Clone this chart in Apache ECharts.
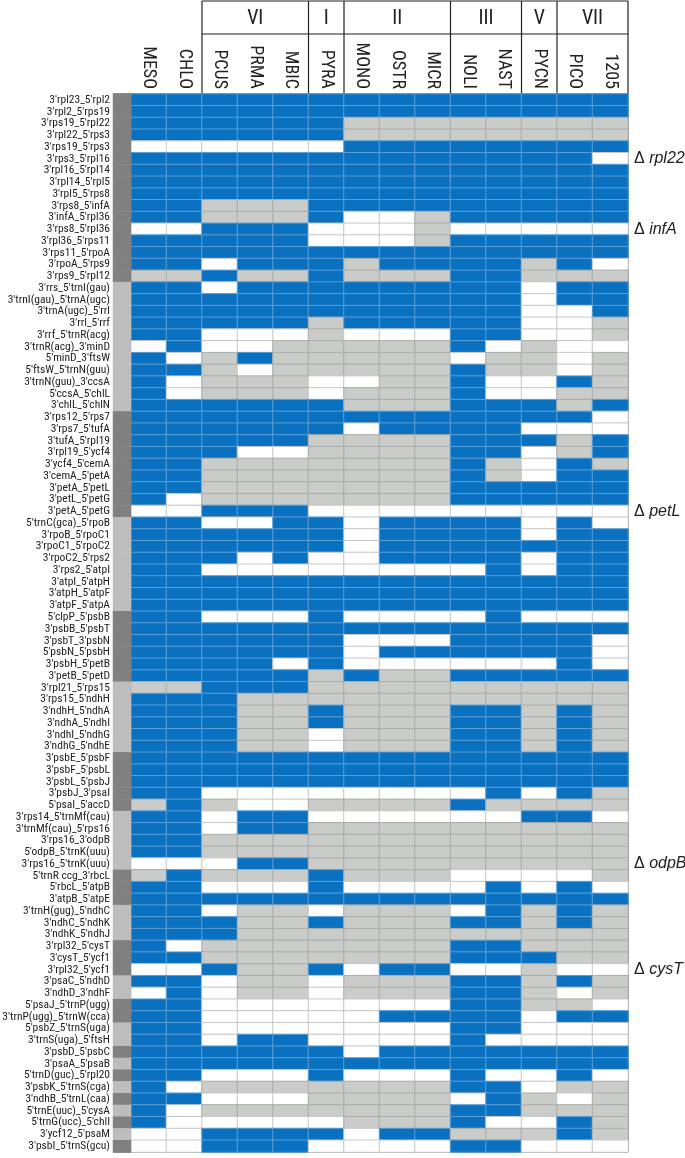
<!DOCTYPE html>
<html>
<head>
<meta charset="utf-8">
<script src="https://cdn.jsdelivr.net/npm/echarts@6/dist/echarts.min.js"></script>
<style>
html,body{margin:0;padding:0;background:#fff;}
#chart{width:685px;height:1158px;}
</style>
</head>
<body>
<div id="chart"></div>
<script>
// ---------- data ----------
const columns = ['MESO','CHLO','PCUS','PRMA','MBIC','PYRA','MONO','OSTR','MICR','NOLI','NAST','PYCN','PICO','1205'];

const groups = [
  {name:'VI',  from:2,  to:4},
  {name:'I',   from:5,  to:5},
  {name:'II',  from:6,  to:8},
  {name:'III', from:9,  to:10},
  {name:'V',   from:11, to:11},
  {name:'VII', from:12, to:13}
];

const rowLabels = [
"3'rpl23_5'rpl2","3'rpl2_5'rps19","3'rps19_5'rpl22","3'rpl22_5'rps3","3'rps19_5'rps3",
"3'rps3_5'rpl16","3'rpl16_5'rpl14","3'rpl14_5'rpl5","3'rpl5_5'rps8","3'rps8_5'infA",
"3'infA_5'rpl36","3'rps8_5'rpl36","3'rpl36_5'rps11","3'rps11_5'rpoA","3'rpoA_5'rps9",
"3'rps9_5'rpl12","3'rrs_5'trnI(gau)","3'trnI(gau)_5'trnA(ugc)","3'trnA(ugc)_5'rrl","3'rrl_5'rrf",
"3'rrf_5'trnR(acg)","3'trnR(acg)_3'minD","5'minD_3'ftsW","5'ftsW_5'trnN(guu)","3'trnN(guu)_3'ccsA",
"5'ccsA_5'chlL","3'chlL_5'chlN","3'rps12_5'rps7","3'rps7_5'tufA","3'tufA_5'rpl19",
"3'rpl19_5'ycf4","3'ycf4_5'cemA","3'cemA_5'petA","3'petA_5'petL","3'petL_5'petG",
"3'petA_5'petG","5'trnC(gca)_5'rpoB","3'rpoB_5'rpoC1","3'rpoC1_5'rpoC2","3'rpoC2_5'rps2",
"3'rps2_5'atpI","3'atpI_5'atpH","3'atpH_5'atpF","3'atpF_5'atpA","5'clpP_5'psbB",
"3'psbB_5'psbT","3'psbT_3'psbN","5'psbN_5'psbH","3'psbH_5'petB","3'petB_5'petD",
"3'rpl21_5'rps15","3'rps15_5'ndhH","3'ndhH_5'ndhA","3'ndhA_5'ndhI","3'ndhI_5'ndhG",
"3'ndhG_5'ndhE","3'psbE_5'psbF","3'psbF_5'psbL","3'psbL_5'psbJ","3'psbJ_3'psaI",
"5'psaI_5'accD","3'rps14_5'trnMf(cau)","3'trnMf(cau)_5'rps16","3'rps16_3'odpB","5'odpB_5'trnK(uuu)",
"3'rps16_5'trnK(uuu)","5'trnR ccg_3'rbcL","5'rbcL_5'atpB","3'atpB_5'atpE","3'trnH(gug)_5'ndhC",
"3'ndhC_5'ndhK","3'ndhK_5'ndhJ","3'rpl32_5'cysT","3'cysT_5'ycf1","3'rpl32_5'ycf1",
"3'psaC_5'ndhD","3'ndhD_3'ndhF","5'psaJ_5'trnP(ugg)","3'trnP(ugg)_5'trnW(cca)","5'psbZ_5'trnS(uga)",
"3'trnS(uga)_5'ftsH","3'psbD_5'psbC","3'psaA_5'psaB","5'trnD(guc)_5'rpl20","3'psbK_5'trnS(cga)",
"3'ndhB_5'trnL(caa)","5'trnE(uuc)_5'cysA","5'trnG(ucc)_5'chlI","3'ycf12_5'psaM","3'psbI_5'trnS(gcu)"
];

// B = present (blue), G = grey, W = absent (white); one letter per column
const cellRows = [
"BBBBBBBBBBBBBB","BBBBBBBBBBBBBB","BBBBBBGGGGGGGG","BBBBBBGGGGGGGG","WWWWWWBBBBBBBB",
"BBBBBBBBBBBBBW","BBBBBBBBBBBBBB","BBBBBBBBBBBBBB","BBBBBBBBBBBBBB","BBGGGBBBBBBBBB",
"BBGGGBWWGBBBBB","WWBBBWWWGWWWWW","BBBBBWWWGBBBBB","BBBBBBBBBBBBBB","BBWBBBGBBBBGBW",
"GGBGGBGGGBBGGG","BBWBBBBBBBBWBB","BBBBBBBBBBBWBB","BBBBBBBBBBBWWB","BBBBBGBBBBBWWG",
"BBWWWGWWWBBWWG","WBWWGGGGGBWGWW","BWGBGGGGGWGGWG","BBGWGGGGGBGGWG","BWGGGWWGGBWWBG",
"BWGGGWGGGBWWGG","BBBBBBGGGBBBGB","BBBBBBBBBBBBBW","BBBBBBWBBBBWWW","BBBBBGGGGBBBGB",
"BBBWWGGGGBBWGB","BBGGGGGGGBGWBG","BBGGGGGGGBGWBB","BBGGGGGGGBBBBB","BWGGGGGGGBBBBB",
"WWBBBWWWWWWWWW","BBWWBBWBBBBWBW","BBBBBBWBBBBWBB","BBBBBBWBBBBBBB","BBBWBWWBBBBWBB",
"BBWWWWWWWWBWBB","BBBBBBBBBBBBBB","BBBBBBBBBBBBBB","BBBBBBBBBBBBBB","BBWWWBWWWWBWWW",
"BBBBBBBBBBBBBB","BBBBBBWWWBBBBW","BBBBBBWBBBBBBW","BBBBWBWWWWWWBW","BBBBBGBGGBBBBB",
"GGBBBGGGGGGGGG","BBBGGGGGGGGGGG","BBBGGBGGGBBGBG","BBBGGBGGGBBGBG","BBBGGWGGGBBGBG",
"BBBGGWGGGBBGBG","BBBBBBBBBBBBBB","BBBBBBBBBBBBBB","BBBBBBBBBBBBBB","BBWWWWWWWWBWBG",
"GBGWWGGGGBGGGG","BBWBBWWWWWWBBW","BBWBBGGGGGGGGG","BBGGGGGGGGGGGG","BBGGGGGGGGGGGG",
"WWWBBGGGGGGGGG","GBGGGBGGGWWWWG","BBWWWBWWWWBWBW","BBBBBBBBBBBBBB","BBWGGWGGGWBGBG",
"BBBGGBGGGBBGBG","BBBGGGGGGGGGGG","BWGGGGGGGBBGGG","BBGGGGGGGBBBGG","WWBGGBWBBWWGWW",
"BBWGGWGGGBBGBG","WBWGGWGGGBBGWG","BBWWWWWWWBBGGW","BBWWWWWBBBBWBB","BBWWWWWWWBBWWW",
"BBWBBWWWWBWWWW","BBBBBBWBBBBBBB","BBBBBBBBBBBBBB","BBWWWBWWWBWWBW","BWGGGGGGGBBWGG",
"BBWWWGGGGWBGWG","BWGGGGGGGBBGGG","BWWWWWGGGBWWBG","WWBBBBWBBGGGBG","WWBBBWWWWBBWWW"
];

// left strip: alternating dark / light blocks (lengths in rows), starting dark
const stripBlocks = [16,11,9,8,6,6,5,5,3,3,3,2,2,2,1,1,1,1,1,1,1,1,1];

// right-side annotations (row index -> gene)
const annotations = {5:'rpl22', 11:'infA', 35:'petL', 65:'odpB', 74:'cysT'};

// ---------- styles ----------
const FONT = '"Roboto Condensed","DejaVu Sans Condensed","Liberation Sans",Arial,sans-serif';
const FONT_R = '"Liberation Sans",Arial,sans-serif';
const codeValue = {W:0, G:1, B:2};
const cellColors  = ['#ffffff','#c9ccc9','#0a71c1'];
const cellBorders = ['#c6c6c6','#a9aca9','#5b9fd7'];
const stripColors = ['#808080','#bdbdbd'];

const cellData = [];
cellRows.forEach((row, r) => {
  for (let c = 0; c < columns.length; c++) {
    const v = codeValue[row[c]];
    cellData.push({value:[c, r, v], itemStyle:{color:cellColors[v], borderColor:cellBorders[v]}});
  }
});

const stripData = [];
let rr = 0;
stripBlocks.forEach((len, i) => {
  for (let k = 0; k < len; k++) {
    const s = i % 2;
    stripData.push({value:[0, rr, s], itemStyle:{color:stripColors[s], borderWidth:0}});
    rr++;
  }
});

const GRID_TOP = 94, GRID_BOTTOM = 6, GRID_LEFT = 131, GRID_RIGHT = 57;

const chart = echarts.init(document.getElementById('chart'), null, {renderer:'canvas'});
chart.setOption({
  animation:false,
  backgroundColor:'#fff',
  grid:[
    {left:GRID_LEFT, right:GRID_RIGHT, top:GRID_TOP, bottom:GRID_BOTTOM, containLabel:false, outerBoundsMode:'none'},
    {left:113, width:18, top:GRID_TOP, bottom:GRID_BOTTOM, containLabel:false, outerBoundsMode:'none'}
  ],
  xAxis:[
    {gridIndex:0, type:'category', data:columns, position:'top',
     axisLine:{show:false}, axisTick:{show:false}, splitLine:{show:false},
     axisLabel:{rotate:90, margin:5, fontSize:18, fontFamily:FONT, color:'#222', interval:0}},
    {gridIndex:1, type:'category', data:['s'], show:false}
  ],
  yAxis:[
    {gridIndex:0, type:'category', data:rowLabels, inverse:true,
     axisLine:{show:false}, axisTick:{show:false}, splitLine:{show:false},
     axisLabel:{margin:21, fontSize:11.5, fontFamily:FONT, color:'#222', interval:0, overflow:'none'}},
    {gridIndex:0, type:'category', data:rowLabels, inverse:true, position:'right',
     axisLine:{show:false}, axisTick:{show:false}, splitLine:{show:false},
     axisLabel:{margin:6, interval:0, overflow:'none',
       formatter:(val, idx) => annotations[idx] ? '{d|\u0394 }{g|' + annotations[idx] + '}' : '',
       rich:{d:{fontSize:16, fontFamily:FONT_R, color:'#222'},
             g:{fontSize:16, fontStyle:'italic', fontFamily:FONT_R, color:'#222'}}}},
    {gridIndex:1, type:'category', data:rowLabels, inverse:true, show:false}
  ],
  series:[
    {type:'heatmap', xAxisIndex:0, yAxisIndex:0, data:cellData,
     itemStyle:{borderWidth:1}, emphasis:{disabled:true}, progressive:0},
    {type:'heatmap', xAxisIndex:1, yAxisIndex:2, data:stripData,
     emphasis:{disabled:true}, progressive:0}
  ]
});

// ---------- header boxes and frame ----------
function drawFrame(){
  const p0 = chart.convertToPixel({xAxisIndex:0}, 0);
  const p1 = chart.convertToPixel({xAxisIndex:0}, 1);
  const w = p1 - p0;
  const edge = i => p0 - w/2 + i*w;
  const q0 = chart.convertToPixel({yAxisIndex:0}, 0);
  const q1 = chart.convertToPixel({yAxisIndex:0}, 1);
  const h = q1 - q0;
  const yTop = q0 - h/2;
  const yBot = yTop + h*rowLabels.length;
  const headTop = 1, headMid = 34;
  const line = (x1,y1,x2,y2) => ({type:'line', shape:{x1,y1,x2,y2}, style:{stroke:'#222', lineWidth:1.2}, silent:true});
  const g = [];
  const left = edge(groups[0].from), right = edge(columns.length);
  g.push(line(left, headTop, right, headTop));
  g.push(line(left, headMid, right, headMid));
  groups.forEach(gr => {
    g.push(line(edge(gr.from), headTop, edge(gr.from), yTop));
    g.push({type:'text', silent:true,
      style:{text:gr.name, x:(edge(gr.from)+edge(gr.to+1))/2, y:(headTop+headMid)/2+1,
             align:'center', verticalAlign:'middle', fontSize:20, fontFamily:FONT, fill:'#222'}});
  });
  g.push(line(right, headTop, right, yBot));
  g.push(line(113, yTop, right, yTop));
  g.push(line(113, yBot, right, yBot));
  chart.setOption({graphic:g});
}
drawFrame();
</script>
</body>
</html>
